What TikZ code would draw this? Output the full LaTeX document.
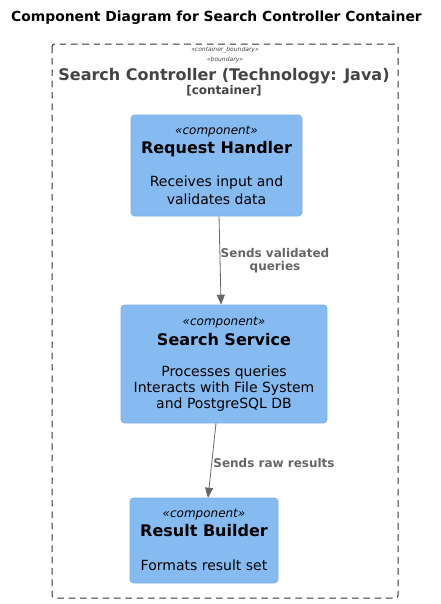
\documentclass[tikz,border=0pt]{standalone}
\usepackage{fontspec}
\setmainfont{DejaVu Sans}
\usetikzlibrary{arrows.meta,calc}
\definecolor{compfill}{HTML}{85BBF0}
\definecolor{compline}{HTML}{7DB1E4}
\definecolor{arrgray}{HTML}{666666}
\definecolor{bndtext}{HTML}{444444}
\definecolor{bndline}{HTML}{333333}
\tikzset{
  comp/.style={draw=compline, fill=compfill, rounded corners=2.5pt, inner sep=0pt},
  txt/.style={inner sep=0pt, anchor=center, align=center},
  stereo/.style={txt, font=\fontsize{9}{10}\selectfont\itshape},
  cname/.style={txt, font=\fontsize{12}{14}\selectfont\bfseries},
  cdesc/.style={txt, font=\fontsize{10.5}{12}\selectfont},
  arr/.style={draw=arrgray, line width=0.6pt, -{Triangle[length=7.5pt,width=6pt]}, arrgray},
  alabel/.style={txt, text=arrgray, font=\fontsize{9}{10}\selectfont\bfseries},
}
\begin{document}
\begin{tikzpicture}[x=0.75pt,y=-0.75pt]
\useasboundingbox (0,0) rectangle (441,604);
\fill[white] (0,0) rectangle (441,604);
% title
\node[txt, font=\fontsize{10.4}{12}\selectfont\bfseries] (title) at (216.5,18) {Component Diagram for Search Controller Container};
% boundary
\draw[dash pattern=on 5pt off 3.5pt, line width=0.75pt, draw=bndline, rounded corners=2pt] (52,44) rectangle (398,598);
\node[txt, font=\fontsize{4.5}{5}\selectfont\itshape, text=bndtext] (bst1) at (225,50) {«container\_boundary»};
\node[txt, font=\fontsize{4.5}{5}\selectfont\itshape, text=bndtext] (bst2) at (225,60) {«boundary»};
\node[txt, font=\fontsize{12}{14}\selectfont\bfseries, text=bndtext] (bname) at (224,76) {Search Controller (Technology: Java)};
\node[txt, font=\fontsize{9}{10}\selectfont\bfseries, text=bndtext] (btype) at (224,91) {[container]};
% Request Handler
\node[comp, minimum width=128.25pt, minimum height=75.75pt] (rh) at (216.5,165.5) {};
\node[stereo] (rhs) at (216.5,132) {«component»};
\node[cname] (rhn) at (216.5,149) {Request Handler};
\node[cdesc] (rhd1) at (216.5,183) {Receives input and};
\node[cdesc] (rhd2) at (216.5,199) {validates data};
% Search Service
\node[comp, minimum width=154.5pt, minimum height=88.5pt] (ss) at (224,364) {};
\node[stereo] (sss) at (224,323) {«component»};
\node[cname] (ssn) at (224,340) {Search Service};
\node[cdesc] (ssd1) at (224,373) {Processes queries};
\node[cdesc] (ssd2) at (224,389) {Interacts with File System};
\node[cdesc] (ssd3) at (224,405) {and PostgreSQL DB};
% Result Builder
\node[comp, minimum width=111pt, minimum height=63.75pt] (rb) at (204,540.5) {};
\node[stereo] (rbs) at (204,515) {«component»};
\node[cname] (rbn) at (204,531) {Result Builder};
\node[cdesc] (rbd) at (204,565) {Formats result set};
% connectors
\draw[arr] ([xshift=1.9pt]rh.south) -- ([xshift=-2.2pt]ss.north);
\node[alabel] (l1) at (275,261) {Sends validated\\queries};
\draw[arr] ([xshift=-6pt]ss.south) -- ([xshift=3pt]rb.north);
\node[alabel] (l2) at (274,463) {Sends raw results};
\end{tikzpicture}
\end{document}
